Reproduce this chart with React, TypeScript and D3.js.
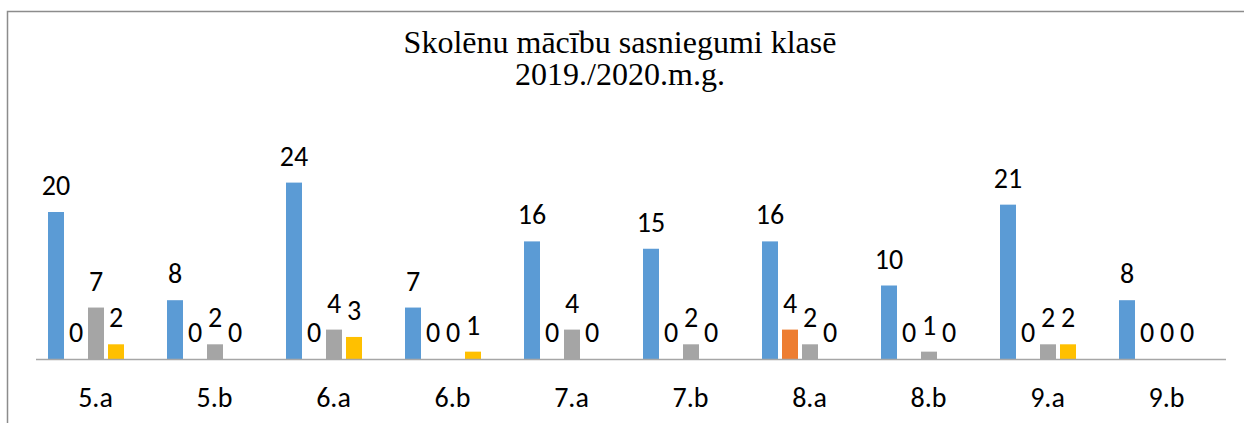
import React, { useEffect, useRef } from "react";
import * as d3 from "d3";

// chart data
const classes = ["5.a", "5.b", "6.a", "6.b", "7.a", "7.b", "8.a", "8.b", "9.a", "9.b"];
const seriesBlue = [20, 8, 24, 7, 16, 15, 16, 10, 21, 8];
const seriesOrange = [0, 0, 0, 0, 0, 0, 4, 0, 0, 0];
const seriesGray = [7, 2, 4, 0, 4, 2, 2, 1, 2, 0];
const seriesYellow = [2, 0, 3, 1, 0, 0, 0, 0, 2, 0];
const seriesColors = ["#5B9BD5", "#ED7D31", "#A5A5A5", "#FFC000"];
const titleLines = ["Skolēnu mācību sasniegumi klasē", "2019./2020.m.g."];

const width = 1244;
const height = 423;

const App = () => {
    const chartRef = useRef(null);

    useEffect(() => {
        const series = [seriesBlue, seriesOrange, seriesGray, seriesYellow];
        const svg = d3.select(chartRef.current);
        svg.selectAll("*").remove();

        // chart frame (left and top edges visible)
        svg.append("path")
            .attr("d", `M7.5,${height} V11.5 H${width}`)
            .attr("fill", "none")
            .attr("stroke", "#8c8c8c")
            .attr("stroke-width", 1.5);

        svg.append("text")
            .attr("x", 620)
            .attr("y", 53)
            .attr("text-anchor", "middle")
            .style("font-family", "'Liberation Serif', 'Times New Roman', serif")
            .style("font-size", "32px")
            .selectAll("tspan")
            .data(titleLines)
            .enter()
            .append("tspan")
            .attr("x", 620)
            .attr("dy", (d, i) => (i === 0 ? 0 : 32))
            .text((d) => d);

        const x0 = d3.scaleBand().domain(classes).range([36, 1226]);
        // 5 slots per group (last one is an empty series in the source)
        const x1 = d3
            .scaleBand()
            .domain(["0", "1", "2", "3", "4"])
            .range([10, x0.bandwidth() - 9])
            .paddingInner(0.2)
            .paddingOuter(0.1);
        const y = d3.scaleLinear().domain([0, 30]).range([359, 138.5]);

        const group = svg
            .selectAll("g.cat")
            .data(classes)
            .enter()
            .append("g")
            .attr("class", "cat")
            .attr("transform", (d) => `translate(${x0(d)},0)`);

        series.forEach((values, s) => {
            group.append("rect")
                .attr("x", x1(String(s)))
                .attr("y", (d, i) => y(values[i]))
                .attr("width", x1.bandwidth())
                .attr("height", (d, i) => y(0) - y(values[i]))
                .attr("fill", seriesColors[s]);

            group.append("text")
                .attr("x", x1(String(s)) + x1.bandwidth() / 2)
                .attr("y", (d, i) => y(values[i]) - 17)
                .attr("text-anchor", "middle")
                .style("font-family", "Carlito, Lato, sans-serif")
                .style("font-size", "28px")
                .style("fill", "#000")
                .text((d, i) => values[i]);
        });

        // category axis line
        svg.append("line")
            .attr("x1", 36)
            .attr("x2", 1226)
            .attr("y1", y(0) + 0.5)
            .attr("y2", y(0) + 0.5)
            .attr("stroke", "#a6a6a6")
            .attr("stroke-width", 1.5);

        svg.selectAll("text.cat-label")
            .data(classes)
            .enter()
            .append("text")
            .attr("class", "cat-label")
            .attr("x", (d) => x0(d) + x0.bandwidth() / 2)
            .attr("y", 407)
            .attr("text-anchor", "middle")
            .style("font-family", "Carlito, Lato, sans-serif")
            .style("font-size", "28px")
            .text((d) => d);
    }, []);

    return (
        <div style={{ position: "absolute", left: 0, top: 0 }}>
            <svg ref={chartRef} width={width} height={height} style={{ display: "block", background: "#fff" }}></svg>
        </div>
    );
};

export default App;
